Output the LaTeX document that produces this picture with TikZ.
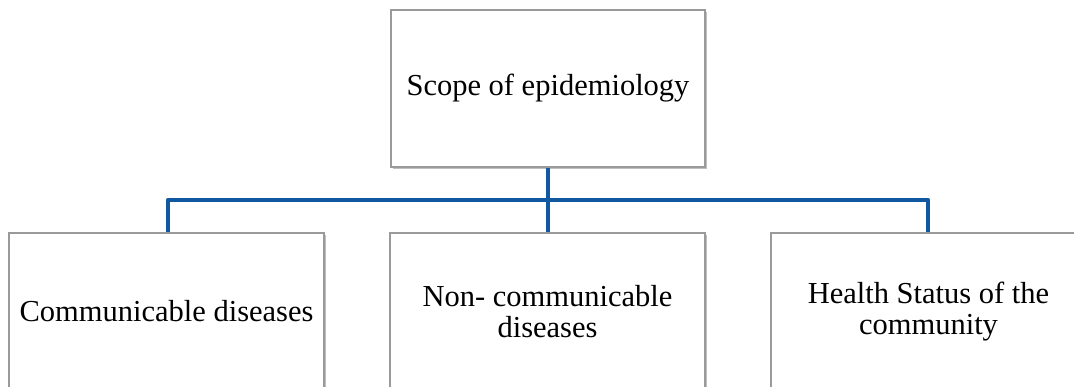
\documentclass[tikz,border=0pt]{standalone}
\usepackage{fontspec}
\setmainfont{Liberation Serif}
\usetikzlibrary{shadows}
\definecolor{linkblue}{HTML}{1059A0}
\definecolor{boxedge}{HTML}{9A9A9A}
\tikzset{
  box/.style={draw=boxedge, line width=1.2pt, fill=white, inner sep=0pt,
    align=center, font=\fontsize{30.5}{31}\selectfont,
    minimum width=315pt, minimum height=157pt,
    drop shadow={shadow xshift=1.5pt, shadow yshift=-2pt, opacity=0.25, fill=black}},
  link/.style={draw=linkblue, line width=4.8pt},
  edge/.style={draw=boxedge, line width=1.2pt}
}
\begin{document}
\begin{tikzpicture}[x=1pt, y=-1pt]
\useasboundingbox (0,0) rectangle (1074,387);
\clip (0,0) rectangle (1074,387);

% top node
\node[box, minimum width=314pt] (root) at (548,88.5) {Scope of epidemiology};

% junction below the root
\coordinate (j) at (548,200);

% child nodes
\node[box] (c1) at (166.5,311.5) {Communicable diseases};
\node[box] (c2) at (547.5,311.5) {Non- communicable\\diseases};
\node[box] (c3) at (928.5,311.5) {Health Status of the\\community};

% connectors
\draw[link] (root.south) -- (j);
\draw[link, line join=round] (c1.north -| {(168,0)}) -- (j -| {(168,0)}) -- (j -| {(928,0)}) -- (c3.north -| {(928,0)});
\draw[link] (j) -- (j |- c2.north);

% redraw box edges so the links sit behind the borders
\draw[edge] (c1.north west) -- (c1.north east);
\draw[edge] (c2.north west) -- (c2.north east);
\draw[edge] (c3.north west) -- (c3.north east);
\draw[edge] (root.south west) -- (root.south east);
\end{tikzpicture}
\end{document}
